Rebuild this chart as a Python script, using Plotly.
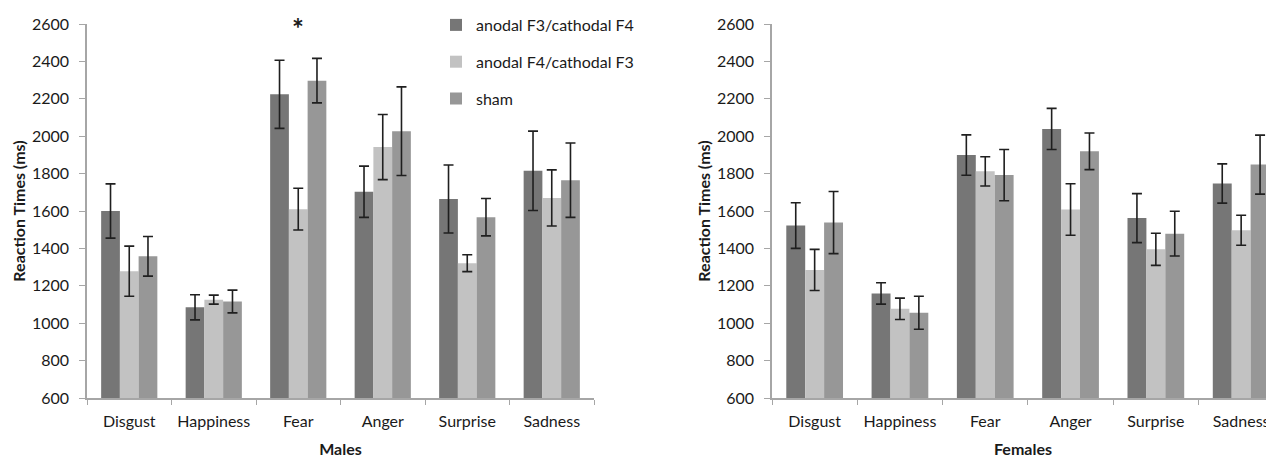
import plotly.graph_objects as go

categories = ["Disgust", "Happiness", "Fear", "Anger", "Surprise", "Sadness"]
series_names = ["anodal F3/cathodal F4", "anodal F4/cathodal F3", "sham"]

males_f3 = [1600, 1085, 2224, 1703, 1664, 1815]
males_f3_err = [145, 67, 182, 137, 182, 212]
males_f4 = [1278, 1126, 1610, 1942, 1321, 1670]
males_f4_err = [134, 24, 112, 174, 45, 150]
males_sham = [1358, 1116, 2297, 2027, 1567, 1765]
males_sham_err = [106, 61, 119, 237, 100, 199]

females_f3 = [1522, 1159, 1899, 2039, 1562, 1747]
females_f3_err = [122, 57, 108, 110, 131, 105]
females_f4 = [1285, 1077, 1812, 1608, 1395, 1497]
females_f4_err = [110, 57, 78, 138, 86, 80]
females_sham = [1538, 1056, 1792, 1919, 1479, 1848]
females_sham_err = [166, 88, 137, 98, 120, 158]

colors = ["#767676", "#c2c2c2", "#979797"]

# page has an 8px body margin: figure is drawn at (8, 8) in the 1274x459 window
OFF = 8
W, H = 1274 - OFF, 459 - OFF
FONT = "Lato"
TXT = "#1a1a1a"
AX = "#a6a6a6"

T_MARGIN = 24 - OFF
B_MARGIN = 459 - 398
PLOT_H = H - T_MARGIN - B_MARGIN

fig = go.Figure()

male_sets = [(males_f3, males_f3_err), (males_f4, males_f4_err), (males_sham, males_sham_err)]
female_sets = [(females_f3, females_f3_err), (females_f4, females_f4_err), (females_sham, females_sham_err)]

for i, (vals, errs) in enumerate(male_sets):
    fig.add_trace(go.Bar(
        x=categories, y=vals, name=series_names[i], legendgroup=f"g{i}",
        marker=dict(color=colors[i], line=dict(width=0)),
        error_y=dict(type="data", array=errs, visible=True, color="#1f1f1f", thickness=1.6, width=5),
        xaxis="x", yaxis="y", showlegend=True,
    ))
for i, (vals, errs) in enumerate(female_sets):
    fig.add_trace(go.Bar(
        x=categories, y=vals, name=series_names[i], legendgroup=f"g{i}",
        marker=dict(color=colors[i], line=dict(width=0)),
        error_y=dict(type="data", array=errs, visible=True, color="#1f1f1f", thickness=1.6, width=5),
        xaxis="x2", yaxis="y2", showlegend=False,
    ))

x1_dom = [(87 - OFF) / W, (594 - OFF) / W]
x2_dom = [(772 - OFF) / W, 1.0]
px_per_cat_right = 85.3
right_max = -0.5 + (1274 - 772) / px_per_cat_right

common_x = dict(
    showline=True, linecolor=AX, linewidth=1.5,
    ticks="outside", ticklen=5, tickcolor=AX, tickwidth=1.2,
    tickson="boundaries", showgrid=False, zeroline=False,
    tickfont=dict(family=FONT, size=16, color=TXT),
    ticklabelstandoff=8,
)
common_y = dict(
    range=[600, 2600], dtick=200, showline=True, linecolor=AX, linewidth=1.5,
    ticks="outside", ticklen=6, tickcolor=AX, tickwidth=1.2,
    showgrid=False, zeroline=False,
    tickfont=dict(family=FONT, size=16, color=TXT),
    ticklabelstandoff=7,
)

fig.update_layout(
    width=W, height=H,
    margin=dict(l=0, r=0, t=T_MARGIN, b=B_MARGIN),
    paper_bgcolor="white", plot_bgcolor="white",
    barmode="group", bargap=0.335, bargroupgap=0,
    font=dict(family=FONT, color=TXT),
    xaxis=dict(domain=x1_dom, anchor="y", range=[-0.5, 5.5],
               title=dict(text="<b>Males</b>", font=dict(family=FONT, size=16, color=TXT), standoff=15),
               **common_x),
    yaxis=dict(domain=[0, 1], anchor="x",
               title=dict(text="<b>Reaction Times (ms)</b>", font=dict(family=FONT, size=16, color=TXT), standoff=2),
               **common_y),
    xaxis2=dict(domain=x2_dom, anchor="y2", range=[-0.5, right_max],
                title=dict(text="<b>Females</b>", font=dict(family=FONT, size=16, color=TXT), standoff=15),
                **common_x),
    yaxis2=dict(domain=[0, 1], anchor="x2",
                title=dict(text="<b>Reaction Times (ms)</b>", font=dict(family=FONT, size=16, color=TXT), standoff=2),
                **common_y),
    legend=dict(x=428 / W, xanchor="left", y=1 + T_MARGIN / PLOT_H, yanchor="top",
                font=dict(family=FONT, size=16, color=TXT),
                tracegroupgap=13, bgcolor="rgba(0,0,0,0)", itemclick=False),
    annotations=[dict(text="<b>*</b>", x="Fear", y=2600, xref="x", yref="y",
                      yanchor="top", yshift=15, showarrow=False,
                      font=dict(family=FONT, size=28, color=TXT))],
)

fig.write_html("out.html")
